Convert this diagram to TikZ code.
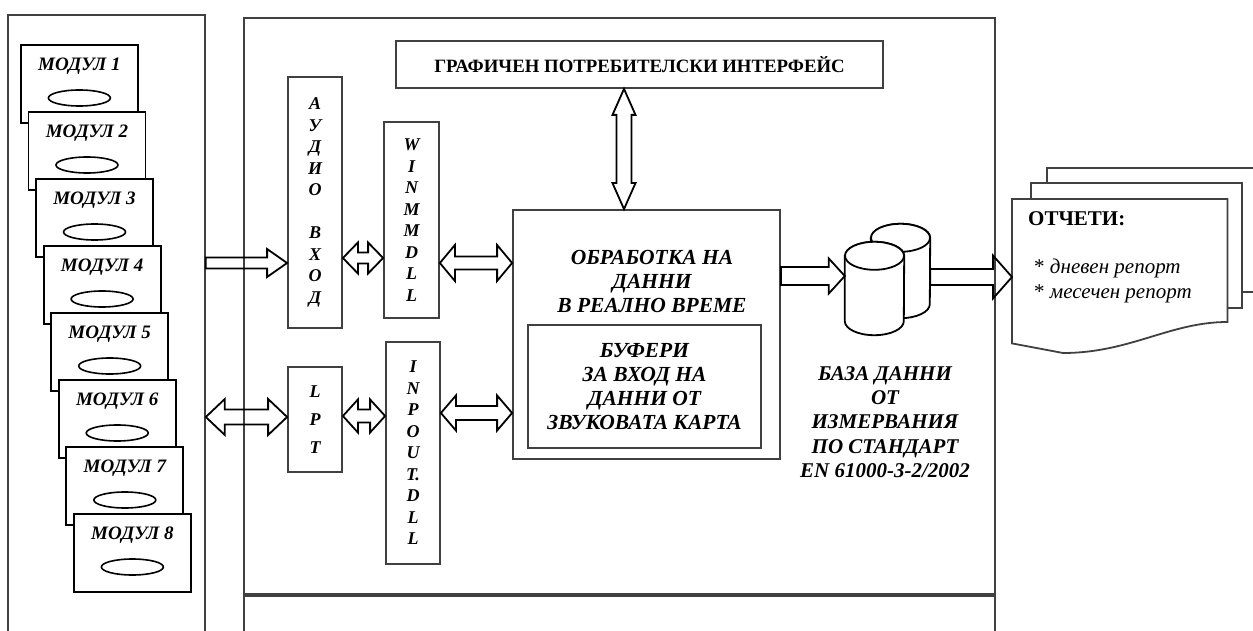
\documentclass[tikz,border=0pt]{standalone}
\usepackage{fontspec}
\setmainfont{Liberation Serif}
\usetikzlibrary{calc,positioning,shapes.geometric}
\definecolor{PlanInk}{HTML}{000000}
\definecolor{PlanFrame}{HTML}{404040}
\tikzset{
  every node/.style={text=PlanInk, inner sep=0pt},
  frame/.style={draw=PlanFrame, line width=1.8pt},
  module/.style={draw=PlanInk, line width=1.8pt, fill=white, minimum width=117pt, minimum height=78pt, anchor=north west},
  modlabel/.style={font=\fontsize{19}{22}\selectfont\bfseries\itshape},
  slot/.style={ellipse, draw=PlanInk, line width=1.6pt, minimum width=62pt, minimum height=16pt},
  unit/.style={draw=PlanFrame, line width=1.8pt, align=center, font=\fontsize{18}{21.5}\selectfont\bfseries\itshape},
  caption/.style={align=center, font=\fontsize{21.5}{24}\selectfont\bfseries\itshape},
  drum/.style={draw=PlanInk, line width=1.8pt, fill=white},
  page/.style={draw=PlanFrame, line width=1.8pt, fill=white},
  arrowbody/.store in=\arrbody, arrowhead/.store in=\arrhead, arrowlen/.store in=\arrlen,
  arrowbody=7pt, arrowhead=17pt, arrowlen=17pt,
  fatone/.style={draw=PlanInk, line width=1.8pt, to path={let \p1=(\tikztostart), \p2=(\tikztotarget) in
    (\x1,\y1+\arrbody) -- (\x2-\arrlen,\y1+\arrbody) -- (\x2-\arrlen,\y1+\arrhead) -- (\x2,\y1)
    -- (\x2-\arrlen,\y1-\arrhead) -- (\x2-\arrlen,\y1-\arrbody) -- (\x1,\y1-\arrbody) -- cycle}},
  fattwo/.style={draw=PlanInk, line width=1.8pt, to path={let \p1=(\tikztostart), \p2=(\tikztotarget) in
    (\x1,\y1) -- (\x1+\arrlen,\y1+\arrhead) -- (\x1+\arrlen,\y1+\arrbody) -- (\x2-\arrlen,\y1+\arrbody)
    -- (\x2-\arrlen,\y1+\arrhead) -- (\x2,\y1) -- (\x2-\arrlen,\y1-\arrhead) -- (\x2-\arrlen,\y1-\arrbody)
    -- (\x1+\arrlen,\y1-\arrbody) -- (\x1+\arrlen,\y1-\arrhead) -- cycle}},
  fatvert/.style={draw=PlanInk, line width=1.8pt, to path={let \p1=(\tikztostart), \p2=(\tikztotarget) in
    (\x1,\y1) -- (\x1+\arrhead,\y1-\arrlen) -- (\x1+\arrbody,\y1-\arrlen) -- (\x1+\arrbody,\y2+\arrlen)
    -- (\x1+\arrhead,\y2+\arrlen) -- (\x1,\y2) -- (\x1-\arrhead,\y2+\arrlen) -- (\x1-\arrbody,\y2+\arrlen)
    -- (\x1-\arrbody,\y1-\arrlen) -- (\x1-\arrhead,\y1-\arrlen) -- cycle}},
}

\begin{document}
\begin{tikzpicture}[x=1pt, y=-1pt]
  \useasboundingbox (0,0) rectangle (1253,631);
  % Outer frames
  \node[frame, minimum width=197pt, minimum height=640pt, anchor=north west] (bank) at (7,14) {};
  \node[frame, minimum width=751pt, minimum height=576pt, anchor=north west] (system) at (243,17) {};
  \node[frame, minimum width=751pt, minimum height=60pt, anchor=north west] (footer) at (system.south west) {};
  % Stack of modules
  \foreach \i in {1,...,8} {
    \node[module] (mod\i) at ({20+7.57*(\i-1)},{44+67*(\i-1)}) {};
    \node[modlabel] (modname\i) at ($(mod\i.north)+(0,22)$) {МОДУЛ \i};
    \node[slot] (slot\i) at ($(mod\i.north)+(0,54)$) {};
  }
  % Input chain
  \node[unit, minimum width=54pt, minimum height=251pt] (audio) at (315,202.5)
    {А\\У\\Д\\И\\О\\[21.5pt]В\\Х\\О\\Д};
  \node[unit, minimum width=55pt, minimum height=196pt] (winmm) at (411.5,220)
    {W\\I\\N\\M\\M\\D\\L\\L};
  \node[unit, minimum width=54pt, minimum height=105pt, font=\fontsize{18}{28}\selectfont\bfseries\itshape] (lpt) at (315,419.5)
    {L\\P\\T};
  \node[unit, minimum width=54pt, minimum height=222pt] (inpout) at (413,453)
    {I\\N\\P\\O\\U\\T.\\D\\L\\L};
  % GUI and processing
  \node[frame, minimum width=487pt, minimum height=47pt, font=\fontsize{18.8}{22}\selectfont\bfseries] (gui) at (639.5,64.5)
    {ГРАФИЧЕН ПОТРЕБИТЕЛСКИ ИНТЕРФЕЙС};
  \node[frame, minimum width=267pt, minimum height=249pt] (proc) at (646.5,334.5) {};
  \node[caption] (proctext) at (652,281) {ОБРАБОТКА НА\\ДАННИ\\В РЕАЛНО ВРЕМЕ};
  \node[frame, caption, minimum width=233pt, minimum height=123pt] (buffer) at (644.5,386.5)
    {БУФЕРИ\\ЗА ВХОД НА\\ДАННИ ОТ\\ЗВУКОВАТА КАРТА};
  % Database
  \node[minimum width=59pt, minimum height=94pt] (dbback) at (900.5,271) {};
  \node[minimum width=59pt, minimum height=93pt] (dbfront) at (874.5,288.5) {};
  \foreach \c in {dbback,dbfront} {
    \draw[drum] ($(\c.north west)+(0,14)$) -- ($(\c.south west)+(0,-14)$)
      arc[start angle=180, end angle=360, x radius=29.5pt, y radius=14pt]
      -- ($(\c.north east)+(0,14)$)
      arc[start angle=0, end angle=180, x radius=29.5pt, y radius=14pt] -- cycle;
    \draw[drum] ($(\c.north)+(0,14)$) ellipse[x radius=29.5pt, y radius=14pt];
  }
  \node[caption, font=\fontsize{21}{24.3}\selectfont\bfseries\itshape] (dbtext) at (885,422)
    {БАЗА ДАННИ\\ОТ\\ИЗМЕРВАНИЯ\\ПО СТАНДАРТ\\EN 61000-3-2/2002};
  % Reports
  \draw[page] (1047,168) rectangle (1270,292);
  \draw[page] (1031,183) rectangle (1242,308);
  \node[minimum width=215pt, minimum height=144pt, anchor=north west] (report) at (1012,199) {};
  \draw[page] (report.north west) -- (report.north east) -- ($(report.north east)+(0,123)$)
    .. controls (1170,322) and (1130,353) .. (1063,353) -- (report.south west) -- cycle;
  \node[anchor=west, font=\fontsize{21}{24}\selectfont\bfseries] (reptitle) at (1028,219) {ОТЧЕТИ:};
  \node[anchor=north west, align=left, font=\fontsize{21}{25}\selectfont] (replist) at (1034,259)
    {* \textit{дневен репорт}\\* \textit{месечен репорт}};
  % Data flow arrows
  \draw[fatone, arrowbody=5.5pt, arrowhead=14pt, arrowlen=20pt] (bank.east |- 0,263) to (audio.west);
  \draw[fattwo, arrowbody=5.5pt, arrowhead=15.5pt, arrowlen=15pt] (audio.east |- 0,258) to (winmm.west);
  \draw[fattwo, arrowbody=6.5pt, arrowhead=18pt, arrowlen=15pt] (winmm.east |- 0,263) to (proc.west);
  \draw[fattwo, arrowbody=7.5pt, arrowhead=18pt, arrowlen=19pt] (bank.east |- 0,417) to (lpt.west);
  \draw[fattwo, arrowbody=6.5pt, arrowhead=16.5pt, arrowlen=15pt] (lpt.east |- 0,416) to (inpout.west);
  \draw[fattwo, arrowbody=7pt, arrowhead=17.5pt, arrowlen=15pt] (inpout.east |- 0,413) to (proc.west);
  \draw[fatvert, arrowbody=7.5pt, arrowhead=11.5pt, arrowlen=26pt] (gui.south -| 624,0) to (proc.north);
  \draw[fatone, arrowbody=9pt, arrowhead=17.5pt, arrowlen=16pt] (proc.east |- 0,276) to (dbfront.west);
  \draw[fatone, arrowbody=8pt, arrowhead=21.5pt, arrowlen=19pt] (dbback.east |- 0,277) to (report.west);
\end{tikzpicture}
\end{document}
